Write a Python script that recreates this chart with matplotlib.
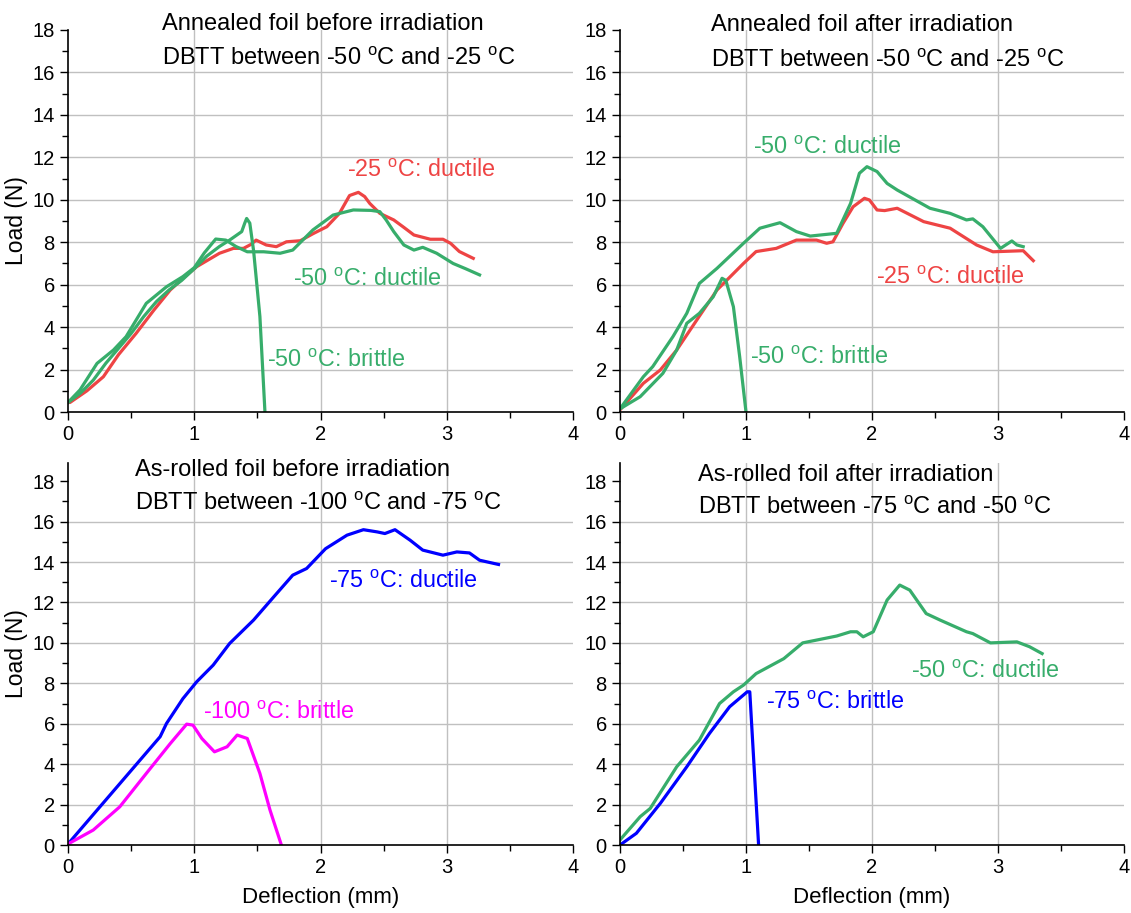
import matplotlib
matplotlib.use("Agg")
import matplotlib.pyplot as plt
from matplotlib.ticker import MultipleLocator

plt.rcParams['font.family'] = ['Liberation Sans', 'DejaVu Sans']
plt.rcParams['mathtext.fontset'] = 'custom'
plt.rcParams['mathtext.rm'] = 'Liberation Sans'
plt.rcParams['mathtext.it'] = 'Liberation Sans'

RED = '#ee4444'
GREEN = '#37ad6b'
BLUE = '#0000ff'
MAGENTA = '#ff00ff'
DEG = r'$^{\rm o}$C'

# ---- Panel A: annealed, before irradiation ----
a_m25_x = [0.0, 0.016, 0.15, 0.28, 0.40, 0.54, 0.68, 0.81, 0.92, 1.02, 1.12, 1.20, 1.31, 1.39, 1.45, 1.49, 1.57, 1.65, 1.73, 1.84, 1.94, 2.05, 2.15, 2.23, 2.30, 2.35, 2.39, 2.47, 2.58, 2.66, 2.74, 2.87, 2.97, 3.03, 3.10, 3.21]
a_m25_y = [0.45, 0.45, 1.0, 1.66, 2.7, 3.71, 4.8, 5.75, 6.35, 6.85, 7.2, 7.48, 7.71, 7.71, 7.9, 8.1, 7.87, 7.79, 8.02, 8.07, 8.4, 8.73, 9.36, 10.2, 10.35, 10.15, 9.83, 9.36, 9.05, 8.7, 8.34, 8.14, 8.14, 7.95, 7.56, 7.24]
a_m50d_x = [0.0, 0.095, 0.23, 0.36, 0.46, 0.62, 0.78, 0.91, 1.0, 1.08, 1.17, 1.25, 1.33, 1.42, 1.55, 1.68, 1.78, 1.94, 2.10, 2.26, 2.40, 2.47, 2.52, 2.58, 2.66, 2.74, 2.81, 2.92, 3.05, 3.15, 3.26]
a_m50d_y = [0.45, 1.04, 2.29, 2.92, 3.55, 5.12, 5.9, 6.38, 6.8, 7.5, 8.15, 8.1, 7.8, 7.55, 7.55, 7.48, 7.63, 8.58, 9.28, 9.52, 9.5, 9.44, 9.05, 8.5, 7.87, 7.63, 7.76, 7.48, 7.0, 6.75, 6.46]
a_m50b_x = [0.0, 0.1, 0.2, 0.3, 0.4, 0.5, 0.6, 0.7, 0.8, 0.9, 1.0, 1.1, 1.2, 1.28, 1.376, 1.40, 1.415, 1.44, 1.47, 1.52, 1.56]
a_m50b_y = [0.45, 0.9, 1.5, 2.3, 3.0, 3.7, 4.5, 5.2, 5.75, 6.2, 6.75, 7.35, 7.8, 8.1, 8.5, 8.9, 9.12, 8.9, 7.6, 4.5, 0.0]

# ---- Panel B: annealed, after irradiation ----
b_m25_x = [0.0, 0.185, 0.32, 0.45, 0.61, 0.77, 0.98, 1.08, 1.24, 1.40, 1.56, 1.64, 1.69, 1.77, 1.85, 1.94, 1.98, 2.04, 2.10, 2.20, 2.41, 2.62, 2.83, 2.96, 3.20, 3.28]
b_m25_y = [0.1, 1.35, 1.98, 2.92, 4.34, 5.75, 7.0, 7.56, 7.71, 8.1, 8.1, 7.95, 8.02, 8.89, 9.67, 10.07, 9.99, 9.52, 9.49, 9.6, 8.97, 8.66, 7.87, 7.55, 7.6, 7.13]
b_m50d_x = [0.0, 0.185, 0.26, 0.42, 0.53, 0.63, 0.77, 0.98, 1.11, 1.27, 1.40, 1.51, 1.59, 1.72, 1.83, 1.90, 1.96, 2.04, 2.12, 2.20, 2.46, 2.62, 2.75, 2.80, 2.88, 3.02, 3.11, 3.15, 3.20]
b_m50d_y = [0.15, 1.66, 2.14, 3.55, 4.65, 6.06, 6.77, 7.95, 8.66, 8.92, 8.5, 8.29, 8.34, 8.42, 9.83, 11.25, 11.56, 11.33, 10.77, 10.46, 9.6, 9.36, 9.05, 9.1, 8.73, 7.71, 8.06, 7.87, 7.79]
b_m50b_x = [0.0, 0.16, 0.34, 0.45, 0.53, 0.63, 0.74, 0.81, 0.84, 0.90, 0.95, 1.0]
b_m50b_y = [0.15, 0.72, 1.82, 2.92, 4.18, 4.65, 5.43, 6.30, 6.2, 4.96, 2.6, 0.0]

# ---- Panel C: as-rolled, before irradiation ----
c_m75_x = [0.0, 0.73, 0.78, 0.91, 1.02, 1.15, 1.28, 1.47, 1.63, 1.78, 1.89, 2.04, 2.21, 2.34, 2.45, 2.51, 2.59, 2.71, 2.81, 2.97, 3.08, 3.18, 3.26, 3.41]
c_m75_y = [0.05, 5.36, 6.01, 7.24, 8.08, 8.9, 9.97, 11.13, 12.28, 13.35, 13.68, 14.66, 15.33, 15.6, 15.49, 15.41, 15.6, 15.08, 14.59, 14.34, 14.5, 14.45, 14.09, 13.88]
c_m100_x = [0.0, 0.20, 0.41, 0.62, 0.81, 0.94, 0.99, 1.06, 1.16, 1.26, 1.34, 1.42, 1.52, 1.60, 1.69]
c_m100_y = [0.05, 0.74, 1.89, 3.54, 5.02, 5.98, 5.93, 5.27, 4.61, 4.86, 5.44, 5.27, 3.54, 1.73, 0.0]

# ---- Panel D: as-rolled, after irradiation ----
d_m50_x = [0.0, 0.16, 0.24, 0.45, 0.63, 0.79, 0.90, 0.98, 1.08, 1.30, 1.45, 1.72, 1.83, 1.88, 1.93, 2.01, 2.12, 2.22, 2.30, 2.43, 2.54, 2.75, 2.80, 2.94, 3.15, 3.25, 3.35]
d_m50_y = [0.25, 1.4, 1.81, 3.87, 5.19, 7.0, 7.58, 7.91, 8.48, 9.22, 10.0, 10.34, 10.55, 10.55, 10.3, 10.55, 12.12, 12.86, 12.61, 11.45, 11.13, 10.55, 10.46, 10.0, 10.05, 9.81, 9.47]
d_m75_x = [0.0, 0.13, 0.32, 0.53, 0.71, 0.87, 1.01, 1.03, 1.10]
d_m75_y = [0.0, 0.58, 2.06, 3.87, 5.52, 6.84, 7.58, 7.58, 0.0]

titles = [
    ("Annealed foil before irradiation", "DBTT between -50 " + DEG + " and -25 " + DEG),
    ("Annealed foil after irradiation", "DBTT between -50 " + DEG + " and -25 " + DEG),
    ("As-rolled foil before irradiation", "DBTT between -100 " + DEG + " and -75 " + DEG),
    ("As-rolled foil after irradiation", "DBTT between -75 " + DEG + " and -50 " + DEG),
]

W, H = 1131, 913
fig = plt.figure(figsize=(W / 100, H / 100), dpi=100)

def px_axes(l, r, t, b):
    return fig.add_axes([l / W, 1 - b / H, (r - l) / W, (b - t) / H])

axA = px_axes(68, 573, 30, 412)
axB = px_axes(620, 1124, 30, 412)
axC = px_axes(68, 573, 463, 845)
axD = px_axes(620, 1124, 463, 845)

LW = 2.3
axA.plot(a_m25_x, a_m25_y, color=RED, lw=LW)
axA.plot(a_m50d_x, a_m50d_y, color=GREEN, lw=LW)
axA.plot(a_m50b_x, a_m50b_y, color=GREEN, lw=LW)
axB.plot(b_m25_x, b_m25_y, color=RED, lw=LW)
axB.plot(b_m50d_x, b_m50d_y, color=GREEN, lw=LW)
axB.plot(b_m50b_x, b_m50b_y, color=GREEN, lw=LW)
axC.plot(c_m75_x, c_m75_y, color=BLUE, lw=LW)
axC.plot(c_m100_x, c_m100_y, color=MAGENTA, lw=LW)
axD.plot(d_m50_x, d_m50_y, color=GREEN, lw=LW)
axD.plot(d_m75_x, d_m75_y, color=BLUE, lw=LW)

LFS = 16.8
TFS = 17
# curve labels
axA.text(2.21, 11.36, "-25 " + DEG + ": ductile", color=RED, fontsize=LFS, va='center')
axA.text(1.78, 6.22, "-50 " + DEG + ": ductile", color=GREEN, fontsize=LFS, va='center')
axA.text(1.58, 2.45, "-50 " + DEG + ": brittle", color=GREEN, fontsize=LFS, va='center')
axB.text(1.056, 12.44, "-50 " + DEG + ": ductile", color=GREEN, fontsize=LFS, va='center')
axB.text(2.03, 6.36, "-25 " + DEG + ": ductile", color=RED, fontsize=LFS, va='center')
axB.text(1.03, 2.59, "-50 " + DEG + ": brittle", color=GREEN, fontsize=LFS, va='center')
axC.text(2.07, 13.06, "-75 " + DEG + ": ductile", color=BLUE, fontsize=LFS, va='center')
axC.text(1.07, 6.58, "-100 " + DEG + ": brittle", color=MAGENTA, fontsize=LFS, va='center')
axD.text(2.31, 8.6, "-50 " + DEG + ": ductile", color=GREEN, fontsize=LFS, va='center')
axD.text(1.16, 7.07, "-75 " + DEG + ": brittle", color=BLUE, fontsize=LFS, va='center')

title_pos = [(0.745, 18.3, 16.62), (0.72, 18.25, 16.55), (0.53, 18.55, 16.9), (0.62, 18.32, 16.66)]
for ax, (t1, t2), (tx, y1, y2) in zip([axA, axB, axC, axD], titles, title_pos):
    ax.text(tx, y1, t1, fontsize=TFS, va='center', clip_on=False)
    ax.text(tx, y2, t2, fontsize=TFS, va='center', clip_on=False)

for ax, ytop in [(axA, 18), (axB, 18), (axC, 18.9), (axD, 18.9)]:
    ax.set_xlim(0, 4)
    ax.set_ylim(0, ytop)
    ax.set_xticks([0, 1, 2, 3, 4])
    ax.set_yticks(list(range(0, 19, 2)))
    ax.xaxis.set_minor_locator(MultipleLocator(0.5))
    ax.yaxis.set_minor_locator(MultipleLocator(1))
    ax.tick_params(which='major', direction='out', length=6, width=1, labelsize=14.5)
    ax.tick_params(which='minor', direction='out', length=4, width=1)
    ax.spines['top'].set_visible(False)
    ax.spines['right'].set_visible(False)
    for s in ['left', 'bottom']:
        ax.spines[s].set_linewidth(1.2)
    for v in [1, 2, 3]:
        ax.axvline(v, color='#c0c0c0', lw=1, zorder=0)
    for v in range(2, 17, 2):
        ax.axhline(v, color='#c0c0c0', lw=1, zorder=0)

for ax in (axA, axC):
    ax.set_ylabel("Load (N)", fontsize=16.5)
    ax.yaxis.set_label_coords(-0.079, 0.5)
for ax in (axC, axD):
    ax.set_xlabel("Deflection (mm)", fontsize=16)
    ax.xaxis.set_label_coords(0.5, -0.11)

fig.savefig("out.png", dpi=100)
